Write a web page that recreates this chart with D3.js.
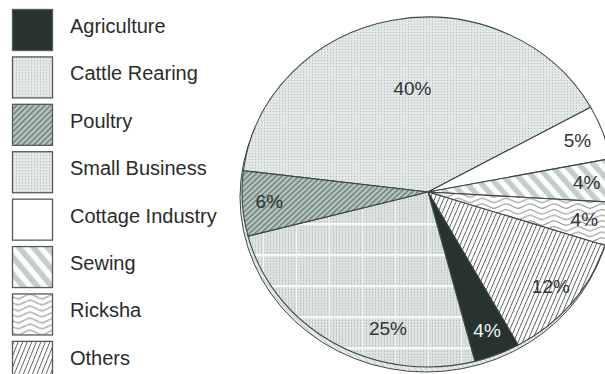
<!DOCTYPE html>
<html>
<head>
<meta charset="utf-8">
<script src="https://cdn.jsdelivr.net/npm/d3@7/dist/d3.min.js"></script>
<style>
  html, body { margin: 0; padding: 0; background: #fff; }
  svg { display: block; }
  text { font-family: "Liberation Sans", Arial, Helvetica, sans-serif; }
</style>
</head>
<body>
<svg id="chart" width="605" height="374"></svg>
<script>
// Income sources, share of total (%)
const categories = ["Agriculture", "Cattle Rearing", "Poultry", "Small Business",
                    "Cottage Industry", "Sewing", "Ricksha", "Others"];
const shares = [4, 40, 6, 25, 5, 4, 4, 12];
// Order in which slices run clockwise around the pie
const sliceOrder = ["Cattle Rearing", "Cottage Industry", "Sewing", "Ricksha",
                    "Others", "Agriculture", "Small Business", "Poultry"];
const labelText = shares.map(v => v + "%");

const W = 605, H = 374;
const svg = d3.select("#chart");
const defs = svg.append("defs");

// ---------- fill patterns ----------
function pattern(id, w, h, transform) {
  const p = defs.append("pattern").attr("id", id)
    .attr("patternUnits", "userSpaceOnUse").attr("width", w).attr("height", h);
  if (transform) p.attr("patternTransform", transform);
  return p;
}

// fine stipple
{
  const p = pattern("stipple", 3, 3);
  p.append("rect").attr("width", 3).attr("height", 3).attr("fill", "#e3e9e8");
  p.append("rect").attr("x", 1).attr("y", 1).attr("width", 1).attr("height", 1).attr("fill", "#a8b4b1");
}
// stipple crossed by white rules
{
  const p = pattern("grid", 33, 33);
  p.append("rect").attr("width", 33).attr("height", 33).attr("fill", "#dce3e1");
  for (let x = 0; x < 33; x += 3)
    for (let y = 0; y < 33; y += 3)
      p.append("rect").attr("x", x + 1).attr("y", y + 1).attr("width", 1).attr("height", 1).attr("fill", "#9eaaa7");
  p.append("rect").attr("x", 0).attr("y", 0).attr("width", 33).attr("height", 2).attr("fill", "#fbfcfc");
  p.append("rect").attr("x", 0).attr("y", 0).attr("width", 1.2).attr("height", 33).attr("fill", "#f3f6f5");
}
// diagonal hatch on grey-green
{
  const p = pattern("hatch", 4, 4, "rotate(45)");
  p.append("rect").attr("width", 4).attr("height", 4).attr("fill", "#b9c6c2");
  p.append("rect").attr("width", 1.6).attr("height", 4).attr("fill", "#6d807a");
}
// wide dotted bands
{
  const p = pattern("bands", 11, 11, "rotate(-40)");
  p.append("rect").attr("width", 11).attr("height", 11).attr("fill", "#fbfcfc");
  p.append("rect").attr("width", 5.5).attr("height", 11).attr("fill", "#c3cdca");
}
// wavy lines
{
  const p = pattern("waves", 24, 6);
  p.append("rect").attr("width", 24).attr("height", 6).attr("fill", "#fff");
  p.append("path").attr("d", "M0,3 C6,0 6,0 12,3 S18,6 24,3")
    .attr("fill", "none").attr("stroke", "#555").attr("stroke-width", 0.8);
}
// thin slanted lines
{
  const p = pattern("lines", 4.2, 4.2, "rotate(22)");
  p.append("rect").attr("width", 4.2).attr("height", 4.2).attr("fill", "#fff");
  p.append("rect").attr("width", 0.9).attr("height", 4.2).attr("fill", "#5a5f5e");
}
// rim of the disc
{
  const p = pattern("rim", 4, 4, "rotate(-45)");
  p.append("rect").attr("width", 4).attr("height", 4).attr("fill", "#e6ecea");
  p.append("rect").attr("width", 1).attr("height", 4).attr("fill", "#c6d0cd");
}

const fills = {
  "Agriculture": "#26332f",
  "Cattle Rearing": "url(#stipple)",
  "Poultry": "url(#hatch)",
  "Small Business": "url(#grid)",
  "Cottage Industry": "#ffffff",
  "Sewing": "url(#bands)",
  "Ricksha": "url(#waves)",
  "Others": "url(#lines)"
};
const legendFills = Object.assign({}, fills, { "Small Business": "url(#stipple)" });

// ---------- legend ----------
const legendY = d3.scaleBand().domain(categories).range([9, 9 + 46.7 * categories.length]).paddingInner(0.12).paddingOuter(0);
const legend = svg.append("g");
const items = legend.selectAll("g").data(categories).join("g")
  .attr("transform", d => `translate(0,${legendY(d)})`);
items.append("rect")
  .attr("x", 12.5).attr("y", 0.5).attr("width", 40).attr("height", 41)
  .attr("fill", d => legendFills[d]).attr("stroke", "#555b59").attr("stroke-width", 1.3);
items.append("text")
  .attr("x", 70).attr("y", 24)
  .attr("font-size", 20).attr("fill", "#2b2b2b")
  .text(d => d);

// ---------- pie ----------
const cx = 428, cy = 192, rx = 186, ry = 175;
const data = sliceOrder.map(name => ({ name, value: shares[categories.indexOf(name)], label: labelText[categories.indexOf(name)] }));

const pie = d3.pie().sort(null).value(d => d.value)
  .startAngle(-83 * Math.PI / 180).endAngle((360 - 83) * Math.PI / 180);
const arcs = pie(data);
const arc = d3.arc().innerRadius(0).outerRadius(rx);

// rim seen below the disc
svg.append("ellipse")
  .attr("cx", cx - 2).attr("cy", cy + 5).attr("rx", rx).attr("ry", ry)
  .attr("fill", "url(#rim)").attr("stroke", "#3f4a47").attr("stroke-width", 1);

const disc = svg.append("g").attr("transform", `translate(${cx},${cy}) scale(1,${ry / rx})`);
disc.selectAll("path").data(arcs).join("path")
  .attr("d", arc)
  .attr("fill", d => fills[d.data.name])
  .attr("stroke", "#3c4744").attr("stroke-width", 1.1)
  .attr("vector-effect", "non-scaling-stroke")
  .attr("stroke-linejoin", "round");

// percentage labels
const labelPlace = { "Cattle Rearing": { r: 0.6, da: 3 }, "Small Business": { r: 0.81, da: -15 } };
const labels = svg.append("g");
labels.selectAll("text").data(arcs).join("text")
  .each(function (d) {
    const place = labelPlace[d.data.name] || { r: 0.855, da: 0 };
    const a = (d.startAngle + d.endAngle) / 2 + place.da * Math.PI / 180;
    const r = rx * place.r;
    d3.select(this)
      .attr("x", cx + r * Math.sin(a))
      .attr("y", cy - r * Math.cos(a) * ry / rx);
  })
  .attr("text-anchor", "middle").attr("dominant-baseline", "central")
  .attr("font-size", 19)
  .attr("fill", d => d.data.name === "Agriculture" ? "#f2f5f4" : "#333")
  .text(d => d.data.label);
</script>
</body>
</html>
